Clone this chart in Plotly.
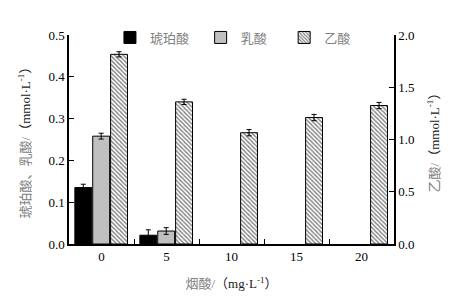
import plotly.graph_objects as go

categories = ["0", "5", "10", "15", "20"]
succinic = [0.135, 0.021, None, None, None]
succinic_err = [0.008, 0.013, None, None, None]
lactic = [0.258, 0.031, None, None, None]
lactic_err = [0.007, 0.008, None, None, None]
acetic = [1.815, 1.36, 1.065, 1.21, 1.325]
acetic_err = [0.025, 0.025, 0.03, 0.03, 0.03]

FONT = "Liberation Serif, Noto Sans CJK SC"
GRAY = "#808080"
UNIT_MMOL = "<span style='color:#222'>（mmol·L<sup>-1</sup>）</span>"
UNIT_MG = "<span style='color:#222'>（mg·L<sup>-1</sup>）</span>"

fig = go.Figure()
bw = 0.26
fig.add_trace(go.Bar(
    x=categories, y=succinic, name="琥珀酸", width=bw, offset=-0.41,
    marker=dict(color="black", line=dict(color="black", width=1)),
    error_y=dict(type="data", array=succinic_err, color="black", thickness=1, width=2.5),
    yaxis="y", legend="legend",
))
fig.add_trace(go.Bar(
    x=categories, y=lactic, name="乳酸", width=bw, offset=-0.135,
    marker=dict(color="#c0c0c0", line=dict(color="black", width=1)),
    error_y=dict(type="data", array=lactic_err, color="black", thickness=1, width=2.5),
    yaxis="y", legend="legend2",
))
fig.add_trace(go.Bar(
    x=categories, y=acetic, name="乙酸", width=bw, offset=0.14,
    marker=dict(color="white", line=dict(color="black", width=1),
                pattern=dict(shape="\\", size=3, solidity=0.45, fgcolor="black", bgcolor="white")),
    error_y=dict(type="data", array=acetic_err, color="black", thickness=1, width=2.5),
    yaxis="y2", legend="legend3",
))

leg = dict(orientation="h", xanchor="left", y=0.988, yanchor="middle",
           font=dict(family=FONT, size=13, color=GRAY), bgcolor="rgba(0,0,0,0)")

fig.update_layout(
    width=456, height=296,
    margin=dict(l=69, r=62, t=35, b=52, autoexpand=False),
    paper_bgcolor="white", plot_bgcolor="white",
    barmode="overlay",
    font=dict(family=FONT, size=13, color="black"),
    showlegend=True,
    legend=dict(leg, x=0.126),
    legend2=dict(leg, x=0.405),
    legend3=dict(leg, x=0.662),
    xaxis=dict(type="category", range=[-0.5, 4.5], showline=True, linecolor="black", linewidth=1.5,
               ticks="inside", tickson="boundaries", ticklen=5, tickcolor="black",
               showgrid=False, zeroline=False, automargin=False,
               tickfont=dict(family=FONT, size=13, color="black"),
               title=dict(text="烟酸/" + UNIT_MG, font=dict(family=FONT, size=13, color=GRAY),
                          standoff=16)),
    yaxis=dict(range=[0, 0.5], dtick=0.1, tickformat=".1f", showline=True, linecolor="black", linewidth=1.5,
               ticks="inside", ticklen=5, tickcolor="black", showgrid=False, zeroline=False, automargin=False,
               tickfont=dict(family=FONT, size=13, color="black"),
               title=dict(text="琥珀酸、乳酸/" + UNIT_MMOL,
                          font=dict(family=FONT, size=13, color=GRAY), standoff=15)),
    yaxis2=dict(range=[0, 2.0], dtick=0.5, tickformat=".1f", overlaying="y", side="right",
                showline=True, linecolor="black", linewidth=1.5, automargin=False,
                ticks="inside", ticklen=5, tickcolor="black", showgrid=False, zeroline=False,
                tickfont=dict(family=FONT, size=13, color="black"),
                title=dict(text="乙酸/" + UNIT_MMOL,
                           font=dict(family=FONT, size=13, color=GRAY), standoff=16)),
)

fig.write_html("out.html", config={"displayModeBar": False},
               post_script="document.body.style.margin='0';document.body.style.overflow='hidden';")
